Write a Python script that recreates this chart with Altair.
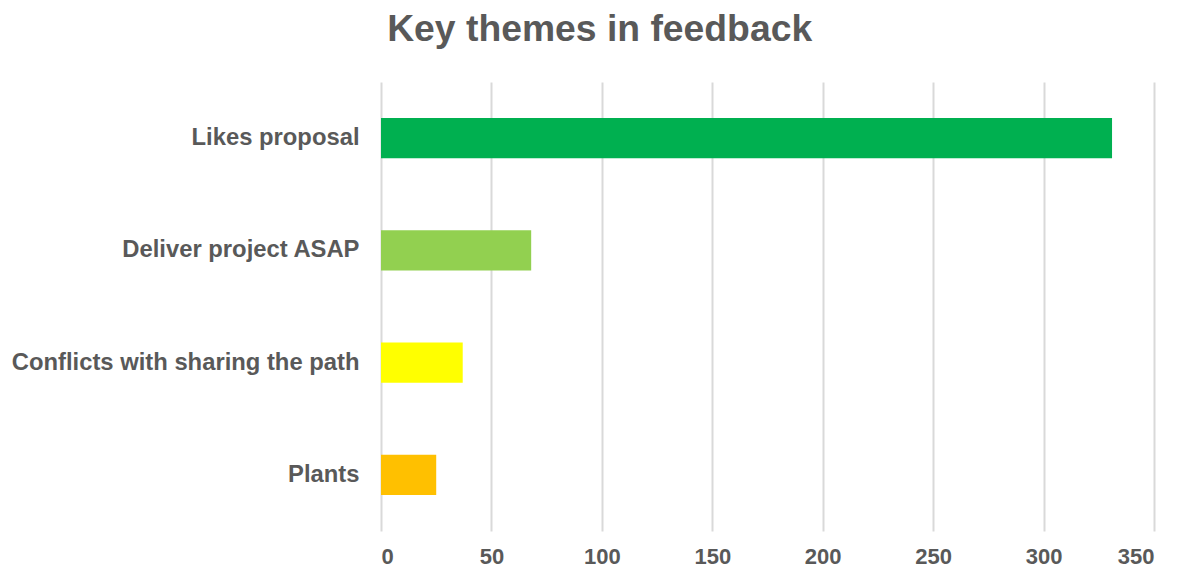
import altair as alt
import pandas as pd

categories = ["Likes proposal", "Deliver project ASAP", "Conflicts with sharing the path", "Plants"]
values = [331, 68, 37, 25]
colors = ["#00B050", "#92D050", "#FFFF00", "#FFC000"]

df = pd.DataFrame({"theme": categories, "count": values, "color": colors})

chart = alt.Chart(df).mark_bar().encode(
    y=alt.Y("theme:N", sort=categories,
            scale=alt.Scale(paddingInner=0.64, paddingOuter=0.32),
            axis=alt.Axis(title=None, labelFont="Liberation Sans", labelFontSize=23.8,
                          labelFontWeight="bold", labelColor="#595959", ticks=False,
                          domain=False, labelPadding=22, labelLimit=500)),
    x=alt.X("count:Q", scale=alt.Scale(domain=[0, 350]),
            axis=alt.Axis(title=None, values=list(range(0, 351, 50)), labelFont="Liberation Sans",
                          labelFontSize=22, labelFontWeight="bold", labelColor="#595959",
                          ticks=False, domain=False, grid=True, gridColor="#D9D9D9",
                          gridWidth=2, labelPadding=15)),
    color=alt.Color("color:N", scale=None),
).properties(
    width=773, height=449,
    title=alt.TitleParams("Key themes in feedback", font="Liberation Sans", fontSize=37.3,
                          fontWeight="bold", color="#595959", anchor="middle", frame="bounds",
                          offset=33, dx=17),
    padding={"left": 3, "top": 2, "right": 5, "bottom": 0},
).configure_view(stroke=None)

chart.save("out.html", embed_options={"renderer": "svg", "actions": False})
